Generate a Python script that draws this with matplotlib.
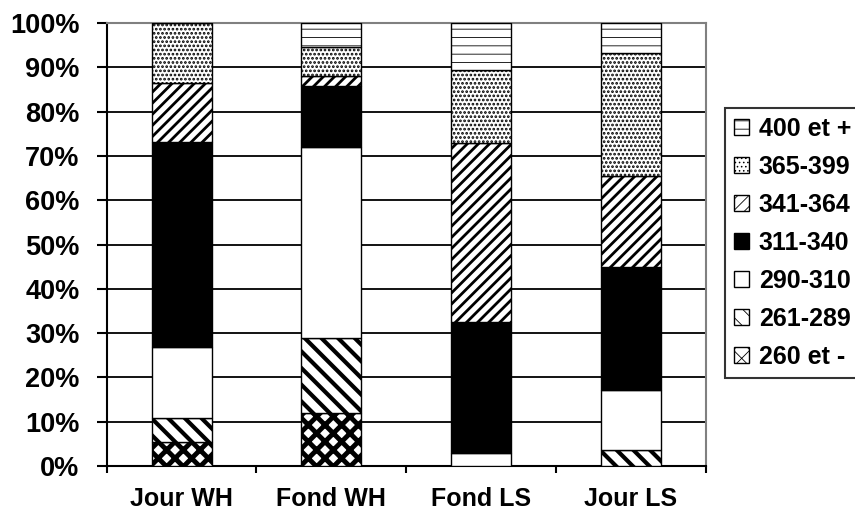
import numpy as np
import matplotlib
matplotlib.use('Agg')
import matplotlib.pyplot as plt

plt.rcParams['font.family'] = ['Liberation Sans', 'DejaVu Sans']
plt.rcParams['font.weight'] = 'bold'

# data (percent of each bar)
sites = ['Jour WH', 'Fond WH', 'Fond LS', 'Jour LS']
classes = ['260 et -', '261-289', '290-310', '311-340', '341-364', '365-399', '400 et +']
v_260 = [5.5, 11.9, 0.0, 0.0]
v_261 = [5.3, 17.1, 0.0, 3.6]
v_290 = [16.1, 43.1, 2.9, 13.6]
v_311 = [46.3, 13.7, 29.7, 27.8]
v_341 = [13.3, 2.2, 40.4, 20.5]
v_365 = [13.5, 6.6, 16.4, 27.8]
v_400 = [0.0, 5.4, 10.6, 6.7]
series = [v_260, v_261, v_290, v_311, v_341, v_365, v_400]

# look of each class: face, hatch, hatch line width
faces = ['white', 'white', 'white', 'black', 'white', 'white', 'white']
hatches = ['xx', '\\\\', None, None, '///', '....', '--']
hatch_lw = [3.5, 3.0, 1.0, 1.0, 2.0, 1.3, 0.6]

fig = plt.figure(figsize=(8.55, 5.12), dpi=100)
ax = fig.add_axes([0.1248, 0.0898, 0.7006, 0.8652])

x = np.arange(len(sites))
bottom = np.zeros(len(sites))
handles = []
for i, vals in enumerate(series):
    plt.rcParams['hatch.linewidth'] = hatch_lw[i]
    bars = ax.bar(x, vals, 0.4, bottom=bottom, color=faces[i], edgecolor='black',
                  linewidth=1.0, hatch=hatches[i], label=classes[i], zorder=3)
    for b in bars:
        if hasattr(b, 'set_hatch_linewidth'):
            b.set_hatch_linewidth(hatch_lw[i])
    handles.append(bars)
    bottom += np.array(vals)

ax.set_xlim(-0.5, 3.5)
ax.set_ylim(0, 100)
ax.set_yticks(np.arange(0, 101, 10))
ax.set_yticklabels(['%d%%' % v for v in range(0, 101, 10)], fontsize=19.5, fontweight='bold')
ax.set_xticks(x)
ax.set_xticklabels(sites, fontsize=18, fontweight='bold')
ax.set_xticks(np.arange(-0.5, 4, 1), minor=True)
ax.tick_params(axis='x', which='major', length=0, pad=15)
ax.tick_params(axis='x', which='minor', length=5, width=1.5, direction='out')
ax.tick_params(axis='y', length=7, width=1.5, direction='out', pad=12.5)

ax.yaxis.grid(True, color='black', linewidth=1.3, zorder=0)
ax.set_axisbelow(True)
for s in ['left', 'bottom']:
    ax.spines[s].set_linewidth(1.5)
    ax.spines[s].set_color('black')
for s in ['top', 'right']:
    ax.spines[s].set_linewidth(1.5)
    ax.spines[s].set_color('#808080')

leg = fig.legend(handles[::-1], classes[::-1], loc='upper left',
                 bbox_to_anchor=(0.848, 0.789), frameon=True, fancybox=False,
                 edgecolor='black', prop={'size': 18, 'weight': 'bold'},
                 handlelength=0.6, handleheight=0.6, handletextpad=0.4,
                 labelspacing=0.56, borderpad=0.35, borderaxespad=0)
leg.get_frame().set_linewidth(1.5)

fig.savefig('out.png', dpi=100)
